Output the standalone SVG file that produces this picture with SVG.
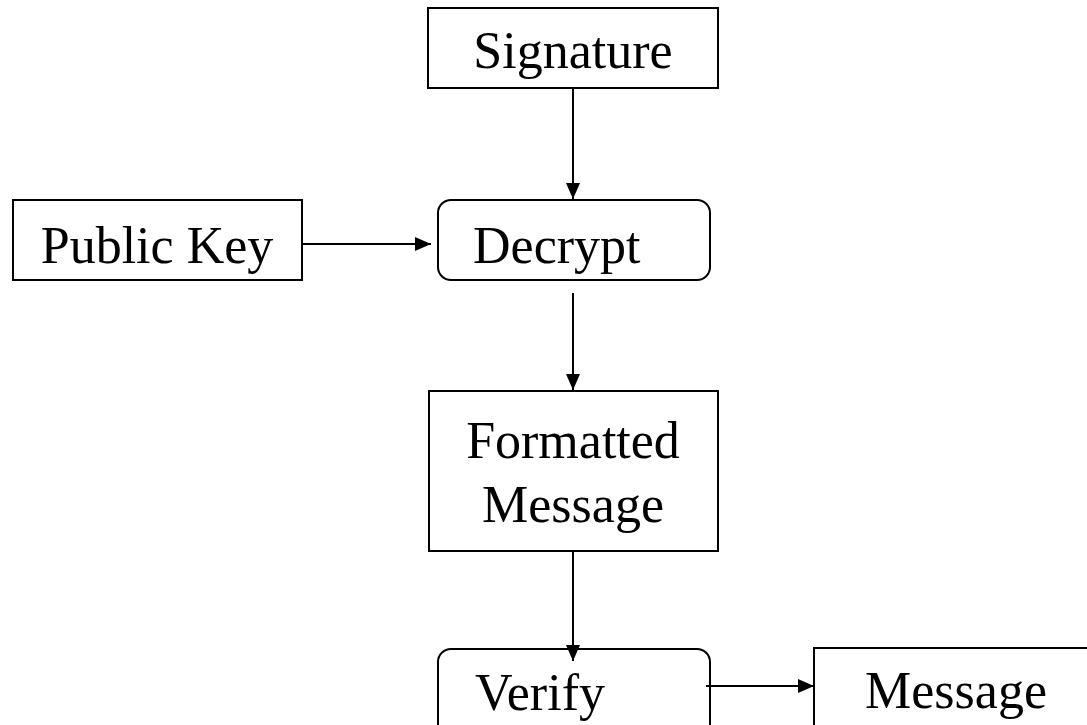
<svg xmlns="http://www.w3.org/2000/svg" width="1087" height="725" viewBox="0 0 1087 725">
<style>
.box{fill:#fff;stroke:#000;stroke-width:2}
.t{font-family:"Liberation Serif","Times New Roman",serif;font-size:52px;fill:#000}
.c{stroke:#000;stroke-width:2;fill:none}
</style>
<defs>
<marker id="ah" viewBox="0 0 16 14" refX="16" refY="7" markerWidth="16" markerHeight="14" markerUnits="userSpaceOnUse" orient="auto">
<path d="M0,0 L16,7 L0,14 Z" fill="#000"/>
</marker>
</defs>
<g id="signature">
<rect class="box" x="428" y="8" width="290" height="80"/>
<text class="t" x="573" y="68" text-anchor="middle">Signature</text>
</g>
<g id="publickey">
<rect class="box" x="13" y="200" width="289" height="80"/>
<text class="t" x="157" y="263" text-anchor="middle">Public Key</text>
</g>
<g id="decrypt">
<rect class="box" x="438" y="200" width="272" height="80" rx="13"/>
<text class="t" x="473" y="263">Decrypt</text>
</g>
<g id="formatted">
<rect class="box" x="429" y="391" width="289" height="160"/>
<text class="t" x="573" y="458" text-anchor="middle">Formatted</text>
<text class="t" x="573" y="522" text-anchor="middle">Message</text>
</g>
<g id="verify">
<rect class="box" x="438" y="649" width="272" height="100" rx="13"/>
<text class="t" x="475" y="710">Verify</text>
</g>
<g id="message">
<rect class="box" x="814" y="648" width="290" height="100"/>
<text class="t" x="956" y="708" text-anchor="middle">Message</text>
</g>
<g id="connectors">
<line class="c" x1="573" y1="88" x2="573" y2="199" marker-end="url(#ah)"/>
<line class="c" x1="302" y1="244" x2="431" y2="244" marker-end="url(#ah)"/>
<line class="c" x1="573" y1="293" x2="573" y2="390" marker-end="url(#ah)"/>
<line class="c" x1="573" y1="551" x2="573" y2="661" marker-end="url(#ah)"/>
<line class="c" x1="706" y1="686" x2="814" y2="686" marker-end="url(#ah)"/>
</g>
</svg>
